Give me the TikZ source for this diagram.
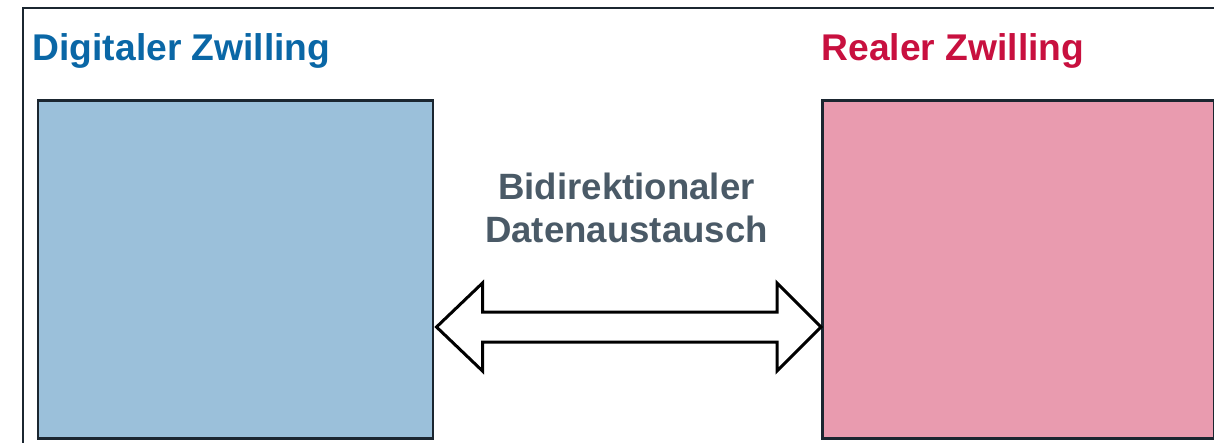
\documentclass[tikz,border=0pt]{standalone}
\usepackage{fontspec}
\setmainfont{Liberation Sans}
\usetikzlibrary{calc}
\definecolor{frameink}{HTML}{1B2630}
\definecolor{digiblue}{HTML}{0A67A6}
\definecolor{realred}{HTML}{C8103F}
\definecolor{labelgrey}{HTML}{4A5A67}
\definecolor{digifill}{HTML}{9BC0DA}
\definecolor{realfill}{HTML}{E99BAF}
\tikzset{
  twinbox/.style={draw=frameink, line width=2.5pt, inner sep=0pt, minimum width=395pt, minimum height=338pt},
  title/.style={font=\fontsize{37.2}{40}\selectfont\bfseries, anchor=base west, inner sep=0pt},
  caption/.style={font=\fontsize{36.6}{43}\selectfont\bfseries, text=labelgrey, align=center, inner sep=0pt},
  bigarrow/.style={draw=black, fill=white, line width=3pt, line join=miter}
}
\begin{document}
\begin{tikzpicture}[x=1pt, y=-1pt]
  \clip (0,0) rectangle (1214,442);
  \fill[white] (0,0) rectangle (1214,442);
  % outer frame, running past the right and bottom edges
  \draw[frameink, line width=2.5pt] (23,8) rectangle (1240,470);
  % titles
  \node[title, text=digiblue] (tdig) at (32.5,60) {Digitaler Zwilling};
  \node[title, text=realred] (treal) at (821.5,60) {Realer Zwilling};
  % the two twins
  \node[twinbox, fill=digifill, anchor=north west] (dig) at (36.5,99) {};
  \node[twinbox, fill=realfill, anchor=north west, minimum width=392pt] (real) at (821,99) {};
  % label
  \node[caption] (lbl) at (626.5,208) {Bidirektionaler\\Datenaustausch};
  % bidirectional block arrow between the boxes
  \coordinate (tipL) at ($(dig.east |- 0,327)+(2.5,0)$);
  \coordinate (tipR) at (real.west |- 0,327);
  \draw[bigarrow]
    (tipL) -- ++(46,-44) -- ++(0,29) -- ($(tipR)+(-44,-15)$) -- ++(0,-29)
    -- (tipR) -- ++(-44,44) -- ++(0,-29) -- ($(tipL)+(46,15)$) -- ++(0,29) -- cycle;
\end{tikzpicture}
\end{document}
